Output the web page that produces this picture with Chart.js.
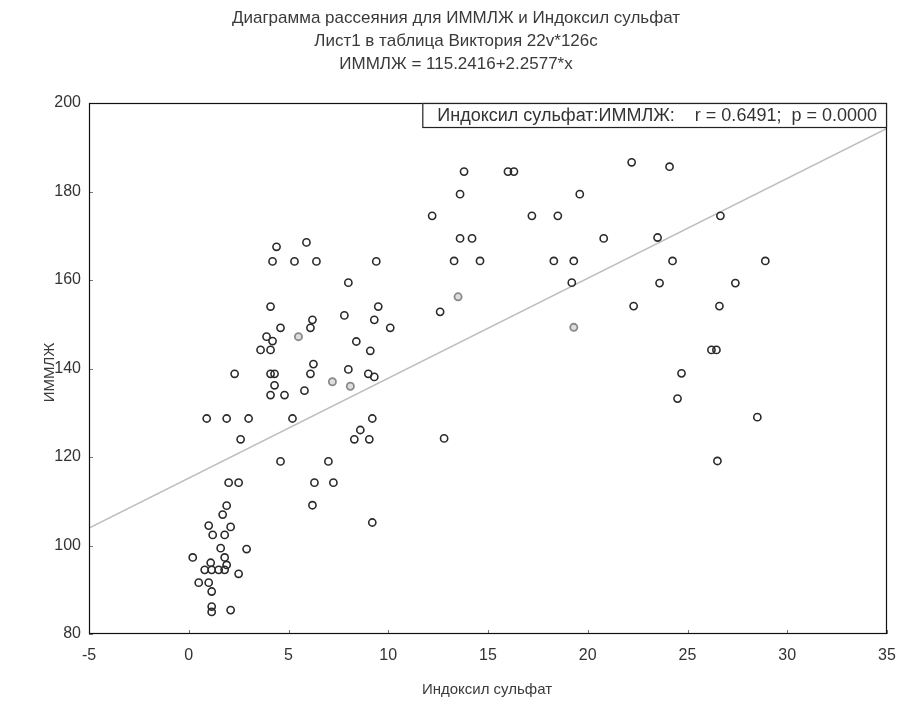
<!DOCTYPE html>
<html>
<head>
<meta charset="utf-8">
<script src="https://cdn.jsdelivr.net/npm/chart.js@4"></script>
<style>
html,body{margin:0;padding:0;background:#fff;}
canvas{display:block;}
</style>
</head>
<body>
<canvas id="c" width="900" height="702"></canvas>
<script>
// ---- data ----
const titleLines = ["Диаграмма рассеяния для ИММЛЖ и Индоксил сульфат", "Лист1 в таблица Виктория 22v*126c", "ИММЛЖ = 115.2416+2.2577*x"];
const xTitle = "Индоксил сульфат";
const yTitle = "ИММЛЖ";
const legendText = "Индоксил сульфат:ИММЛЖ:    r = 0.6491;  p = 0.0000";

const indoxylX = [
  0.9, 1.9, 3.0, 2.6, 2.0, 2.5, 1.9, 1.7, 1.0, 1.2, 2.1, 1.8, 1.6, 2.9, 0.2, 1.8, 1.1, 0.8, 1.15, 1.5, 1.8, 1.9, 2.5, 0.5, 1.0, 1.15, 1.15, 1.15, 2.1,
  4.4, 5.9, 4.2, 5.3, 6.4, 9.4, 8.0, 4.1, 9.5, 6.2, 6.1, 4.6, 7.8, 9.3, 3.9, 4.2, 3.6, 4.1, 8.4, 9.1, 6.25, 6.1, 8.0, 9.0, 9.3, 2.3, 4.1, 4.3, 4.3, 4.1, 4.8, 5.8, 5.2, 9.2, 8.6, 8.3, 9.05, 10.1,
  4.6, 7.0, 6.3, 7.25, 6.2, 9.2,
  13.8, 16.0, 16.3, 22.2, 13.6, 19.6, 17.2, 18.5, 13.6, 14.2, 20.8, 13.3, 14.6, 18.3, 19.3, 19.2, 12.6, 22.3, 12.8, 12.2,
  24.1, 26.65, 23.5, 24.25, 28.9, 23.6, 27.4, 26.6, 26.2, 26.45, 24.7, 24.5, 28.5, 26.5
];
const immljY = [
  128.7, 128.7, 128.7, 124.0, 114.2, 114.2, 109.0, 107.0, 104.5, 102.4, 104.2, 102.4, 99.4, 99.2, 97.3, 97.3, 96.1, 94.5, 94.5, 94.5, 94.5, 95.6, 93.6, 91.6, 91.6, 89.6, 86.2, 85.0, 85.4,
  167.5, 168.5, 164.2, 164.2, 164.2, 164.2, 159.4, 154.0, 154.0, 151.0, 149.2, 149.2, 152.0, 151.0, 147.2, 146.2, 144.2, 144.2, 146.1, 144.0, 141.0, 138.8, 139.8, 138.8, 138.1, 138.8, 138.8, 138.8, 136.2, 134.0, 134.0, 135.0, 128.7, 128.7, 126.1, 124.0, 124.0, 149.2,
  119.0, 119.0, 114.2, 114.2, 109.1, 105.2,
  184.5, 184.5, 184.5, 186.6, 179.4, 179.4, 174.5, 174.5, 169.4, 169.4, 169.4, 164.3, 164.3, 164.3, 164.3, 159.4, 152.8, 154.1, 124.2, 174.5,
  185.6, 174.5, 169.6, 164.3, 164.3, 159.3, 159.3, 154.1, 144.2, 144.2, 138.9, 133.2, 129.0, 119.1
];
// lighter-drawn points
const lightX = [5.5, 7.2, 8.1, 13.5, 19.3];
const lightY = [147.2, 137.0, 136.0, 156.2, 149.3];

// regression line end points
const regX = [-5, 35];
const regY = [103.95, 194.25];

const xTicks = [-5, 0, 5, 10, 15, 20, 25, 30, 35];
const yTicks = [80, 100, 120, 140, 160, 180, 200];

const toPts = (xs, ys) => xs.map((x, i) => ({x: x, y: ys[i]}));

const FONT = "'Liberation Sans', Arial, sans-serif";
const TXT = '#333';

const deco = {
  id: 'deco',
  afterDraw(chart) {
    const ctx = chart.ctx, a = chart.chartArea;
    const xs = chart.scales.x, ys = chart.scales.y;
    ctx.save();
    // inward tick marks
    ctx.strokeStyle = '#777';
    ctx.lineWidth = 1;
    ctx.beginPath();
    xTicks.forEach(v => { const p = Math.round(xs.getPixelForValue(v)) + 0.5; ctx.moveTo(p, a.bottom); ctx.lineTo(p, a.bottom - 4); });
    yTicks.forEach(v => { const p = Math.round(ys.getPixelForValue(v)) + 0.5; ctx.moveTo(a.left, p); ctx.lineTo(a.left + 4, p); });
    ctx.stroke();
    // frame
    ctx.strokeStyle = '#111';
    ctx.lineWidth = 1.2;
    ctx.strokeRect(a.left + 0.5, a.top + 0.5, a.right - a.left - 1, a.bottom - a.top - 1);
    // legend box
    ctx.font = '18px ' + FONT;
    const tw = ctx.measureText(legendText).width;
    const bw = tw + 25, bh = 25, bx = a.right - bw, by = a.top;
    ctx.fillStyle = '#fff';
    ctx.fillRect(bx, by, bw, bh);
    ctx.strokeStyle = '#222';
    ctx.lineWidth = 1.2;
    ctx.strokeRect(bx + 0.5, by + 0.5, bw - 1, bh - 1);
    ctx.fillStyle = TXT;
    ctx.textBaseline = 'middle';
    ctx.textAlign = 'left';
    ctx.fillText(legendText, bx + 15, by + bh / 2 + 1);
    // titles
    ctx.fillStyle = '#3a3a3a';
    ctx.textAlign = 'center';
    ctx.font = '17px ' + FONT;
    titleLines.forEach((t, i) => ctx.fillText(t, 456, 18 + i * 23));
    ctx.font = '15px ' + FONT;
    ctx.fillText(xTitle, 487, 690);
    ctx.translate(50, (a.top + a.bottom) / 2 + 4);
    ctx.rotate(-Math.PI / 2);
    ctx.fillText(yTitle, 0, 0);
    ctx.restore();
  }
};

new Chart(document.getElementById('c'), {
  type: 'scatter',
  data: {
    datasets: [
      {
        type: 'line', data: toPts(regX, regY), borderColor: '#bdbdbd', borderWidth: 1.6,
        pointRadius: 0, fill: false, order: 3
      },
      {
        data: toPts(indoxylX, immljY), pointStyle: 'circle', pointRadius: 3.6,
        borderColor: '#2a2a2a', backgroundColor: 'rgba(255,255,255,0)', borderWidth: 1.6, order: 1
      },
      {
        data: toPts(lightX, lightY), pointStyle: 'circle', pointRadius: 3.6,
        borderColor: '#8a8a8a', backgroundColor: 'rgba(200,200,200,0.6)', borderWidth: 1.8, order: 2
      }
    ]
  },
  options: {
    responsive: false,
    animation: false,
    events: [],
    layout: {padding: {top: 103, right: 13, left: 0, bottom: 0}},
    plugins: {legend: {display: false}, tooltip: {enabled: false}, title: {display: false}},
    scales: {
      x: {
        type: 'linear', min: -5, max: 35,
        afterBuildTicks: s => { s.ticks = xTicks.map(v => ({value: v})); },
        afterFit: s => { s.height = 68; s.paddingLeft = 0; s.paddingRight = 0; },
        grid: {display: false, drawTicks: false},
        border: {display: false},
        ticks: {color: TXT, font: {size: 16, family: FONT}, padding: 12, maxRotation: 0}
      },
      y: {
        type: 'linear', min: 80, max: 200,
        afterBuildTicks: s => { s.ticks = yTicks.map(v => ({value: v})); },
        afterFit: s => { s.width = 89; s.paddingTop = 0; s.paddingBottom = 0; },
        grid: {display: false, drawTicks: false},
        border: {display: false},
        ticks: {color: TXT, font: {size: 16, family: FONT}, padding: 8}
      }
    }
  },
  plugins: [deco]
});
</script>
</body>
</html>
